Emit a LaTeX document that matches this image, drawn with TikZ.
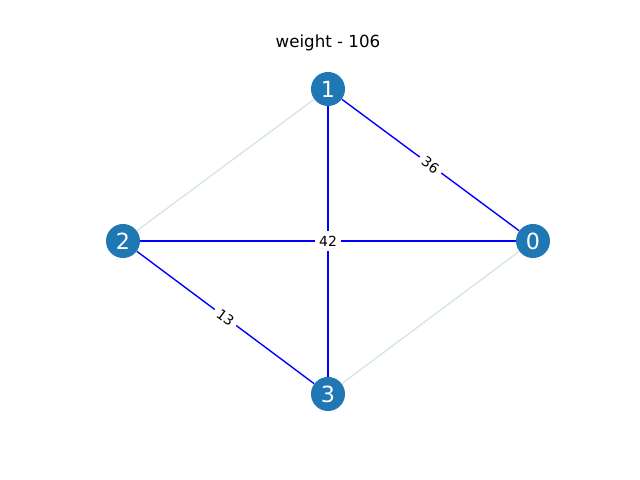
\documentclass[tikz,border=0pt]{standalone}
\usepackage{fontspec}
\setmainfont{DejaVu Sans}
\usetikzlibrary{positioning, backgrounds}
\definecolor{nodeblue}{HTML}{1F77B4}
\definecolor{faint}{RGB}{214,232,218}

\begin{document}
\begin{tikzpicture}[x=0.72pt, y=-0.72pt, every node/.style={font=\fontsize{10}{12}\selectfont}]
	\tikzstyle{v}=[circle,fill=nodeblue,text=white,inner sep=0pt,minimum size=24.5pt,font=\fontsize{16}{18}\selectfont]
	\tikzstyle{e}=[draw=blue,line width=1pt]
	\tikzstyle{g}=[draw=faint,line width=1pt]
	\tikzstyle{w}=[fill=white,inner sep=3.2pt]
    \useasboundingbox (0,0) rectangle (640,480);
    \node[font=\fontsize{12}{14}\selectfont] (title) at (328,43) {weight - 106};
    \node[v] (n1) at (328,89) {1};
    \node[v] (n2) at (123,241) {2};
    \node[v] (n0) at (533,241) {0};
    \node[v] (n3) at (328,394) {3};
    \begin{scope}[on background layer]
    \draw[g] (n1) -- (n2);
    \draw[g] (n3) -- (n0);
    \draw[e] (n1) -- (n0) node[w,midway,sloped] (l36) {36};
    \draw[e] (n2) -- (n3) node[w,midway,sloped] (l13) {13};
    \draw[e] (n1) -- (n3);
    \draw[e] (n2) -- (n0) node[w,midway] (l42) {42};
    \end{scope}
  \end{tikzpicture}
\end{document}
